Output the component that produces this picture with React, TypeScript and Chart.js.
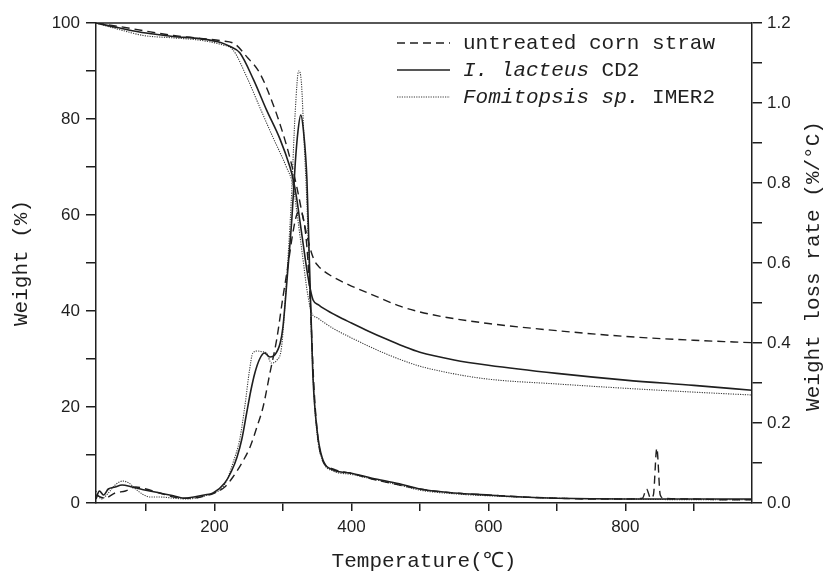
import { useEffect, useRef } from "react";
import { Chart, registerables } from "chart.js";

Chart.register(...registerables);

// ---------- axis ticks ----------
const TEMP_TICKS = [100, 200, 300, 400, 500, 600, 700, 800, 900];
const WEIGHT_TICKS = [0, 10, 20, 30, 40, 50, 60, 70, 80, 90, 100];
const RATE_TICKS = [0, 0.1, 0.2, 0.3, 0.4, 0.5, 0.6, 0.7, 0.8, 0.9, 1.0, 1.1, 1.2];

// ---------- legend ----------
const LEGEND_ITALIC = ["", "I. lacteus", "Fomitopsis sp."];
const LEGEND_PLAIN = ["untreated corn straw", " CD2", " IMER2"];

// ---------- TG curves (Weight %, left axis) ----------
const untreatedTgT = [27, 60, 100, 140, 180, 210, 230, 247, 266, 285, 300, 310, 320, 330, 338, 345, 352, 360, 373, 400, 437, 471, 500, 550, 600, 650, 700, 800, 900, 985];
const untreatedTgW = [100, 99.3, 98.3, 97.4, 96.8, 96.3, 95.6, 93, 89.6, 83.3, 77, 72, 66, 59, 54, 50.8, 49.3, 48.3, 47.1, 45.2, 43, 41, 39.8, 38.4, 37.4, 36.6, 35.9, 34.7, 33.9, 33.4];

const lacteusTgT = [27, 60, 100, 140, 180, 210, 223, 237, 257, 276, 296, 310, 315, 320, 325, 330, 335, 340, 344, 352, 360, 380, 400, 425, 450, 475, 500, 550, 600, 700, 800, 900, 985];
const lacteusTgW = [100, 99.0, 97.9, 97.2, 96.7, 95.9, 95.1, 93.8, 88.2, 81.9, 75.7, 70.1, 67.4, 63.5, 58.5, 53.5, 48.5, 44.5, 42.3, 41.3, 40.5, 38.9, 37.5, 35.8, 34.2, 32.7, 31.4, 29.8, 28.7, 27.0, 25.6, 24.5, 23.5];

const fomitopsisTgT = [27, 62, 96, 140, 179, 210, 227, 247, 266, 285, 305, 315, 320, 325, 330, 335, 342, 350, 360, 373, 400, 425, 450, 475, 500, 550, 600, 700, 800, 900, 985];
const fomitopsisTgW = [100, 98.6, 97.4, 96.9, 96.4, 95.5, 94.4, 88.8, 82.5, 76.3, 70, 66, 61, 55.5, 50, 44.5, 39.6, 38.6, 37.6, 36.4, 34.4, 32.7, 31.1, 29.7, 28.5, 26.9, 25.8, 24.8, 23.9, 23.1, 22.5];

// ---------- DTG curves (Weight loss rate %/°C, right axis) ----------
const untreatedRateT = [27, 40, 55, 70, 85, 100, 120, 140, 160, 180, 200, 215, 227, 240, 252, 262, 271, 281, 291, 300, 307, 314, 320, 325, 330, 335, 340, 345, 350, 357, 373, 398, 430, 470, 500, 550, 600, 650, 700, 750, 800, 825, 831, 837, 841, 846, 851, 856, 900, 950, 985];
const untreatedRate = [0.02, 0.012, 0.025, 0.03, 0.04, 0.035, 0.025, 0.015, 0.012, 0.015, 0.025, 0.04, 0.065, 0.1, 0.14, 0.19, 0.24, 0.325, 0.41, 0.515, 0.59, 0.67, 0.72, 0.73, 0.71, 0.64, 0.5, 0.3, 0.18, 0.11, 0.085, 0.075, 0.06, 0.045, 0.035, 0.025, 0.02, 0.015, 0.012, 0.01, 0.01, 0.012, 0.035, 0.012, 0.02, 0.137, 0.02, 0.012, 0.01, 0.008, 0.008];

const lacteusRateT = [27, 32, 38, 45, 55, 65, 80, 100, 120, 140, 155, 170, 185, 198, 215, 225, 233, 240, 247, 253, 259, 266, 273, 281, 288, 296, 300, 307, 313, 318, 322, 326, 330, 335, 338, 341, 344, 350, 357, 373, 398, 430, 470, 500, 550, 600, 650, 700, 800, 900, 985];
const lacteusRate = [0.01, 0.03, 0.02, 0.035, 0.04, 0.045, 0.04, 0.032, 0.025, 0.018, 0.012, 0.015, 0.02, 0.025, 0.05, 0.08, 0.115, 0.16, 0.225, 0.28, 0.325, 0.36, 0.375, 0.365, 0.37, 0.4, 0.44, 0.58, 0.71, 0.85, 0.93, 0.97, 0.93, 0.81, 0.64, 0.47, 0.31, 0.18, 0.115, 0.083, 0.075, 0.062, 0.048, 0.035, 0.025, 0.02, 0.015, 0.012, 0.01, 0.01, 0.01];

const fomitopsisRateT = [27, 35, 45, 55, 66, 75, 85, 95, 106, 120, 140, 160, 180, 198, 210, 218, 227, 237, 245, 251, 256, 263, 270, 276, 283, 291, 298, 305, 312, 318, 323, 327, 331, 335, 339, 342, 345, 350, 357, 373, 398, 430, 470, 500, 550, 600, 700, 800, 900, 985];
const fomitopsisRate = [0.03, 0.01, 0.025, 0.045, 0.055, 0.05, 0.035, 0.022, 0.015, 0.015, 0.012, 0.01, 0.015, 0.025, 0.035, 0.057, 0.1, 0.16, 0.25, 0.33, 0.375, 0.38, 0.378, 0.375, 0.35, 0.357, 0.39, 0.55, 0.75, 0.98, 1.08, 1.05, 0.9, 0.75, 0.55, 0.4, 0.28, 0.17, 0.11, 0.08, 0.072, 0.06, 0.045, 0.032, 0.023, 0.018, 0.012, 0.01, 0.008, 0.008];

const INK = "#1f1f1f";
const MONO = "'Liberation Mono', 'DejaVu Sans Mono', monospace";
const SANS = "'Liberation Sans', Arial, sans-serif";

const LINE_STYLES = [
  { dash: [8, 5], width: 1.4, color: INK },
  { dash: [] as number[], width: 1.6, color: INK },
  { dash: [1.2, 1.2], width: 1.1, color: "#3a3a3a" },
];

const pts = (xs: number[], ys: number[]) => xs.map((x, i) => ({ x, y: ys[i] }));

const overlayPlugin = {
  id: "overlay",
  afterDraw(chart: any) {
    const { ctx, chartArea: a } = chart;
    ctx.save();
    // top frame line
    ctx.strokeStyle = INK;
    ctx.lineWidth = 1.5;
    ctx.beginPath();
    ctx.moveTo(a.left, a.top);
    ctx.lineTo(a.right, a.top);
    ctx.stroke();

    // legend
    const lx0 = a.left + 301;
    const lx1 = a.left + 354;
    const tx = a.left + 367;
    for (let i = 0; i < 3; i++) {
      const y = a.top + 20 + i * 27;
      const st = LINE_STYLES[i];
      ctx.strokeStyle = st.color;
      ctx.lineWidth = st.width;
      ctx.setLineDash(st.dash);
      ctx.beginPath();
      ctx.moveTo(lx0, y);
      ctx.lineTo(lx1, y);
      ctx.stroke();
      ctx.setLineDash([]);
      ctx.fillStyle = INK;
      ctx.textAlign = "left";
      ctx.textBaseline = "middle";
      let x = tx;
      if (LEGEND_ITALIC[i]) {
        ctx.font = `italic 21px ${MONO}`;
        ctx.fillText(LEGEND_ITALIC[i], x, y);
        x += ctx.measureText(LEGEND_ITALIC[i]).width;
      }
      ctx.font = `21px ${MONO}`;
      ctx.fillText(LEGEND_PLAIN[i], x, y);
    }

    // right axis title, reading bottom to top
    ctx.translate(chart.width - 14, (a.top + a.bottom) / 2 + 3);
    ctx.rotate(-Math.PI / 2);
    ctx.font = `21px ${MONO}`;
    ctx.fillStyle = INK;
    ctx.textAlign = "center";
    ctx.textBaseline = "middle";
    ctx.fillText("Weight loss rate (%/°C)", 0, 0);
    ctx.restore();
  },
};

export default function App() {
  const ref = useRef<HTMLCanvasElement | null>(null);

  useEffect(() => {
    if (!ref.current) return;
    const tg = [
      pts(untreatedTgT, untreatedTgW),
      pts(lacteusTgT, lacteusTgW),
      pts(fomitopsisTgT, fomitopsisTgW),
    ];
    const dtg = [
      pts(untreatedRateT, untreatedRate),
      pts(lacteusRateT, lacteusRate),
      pts(fomitopsisRateT, fomitopsisRate),
    ];
    const names = LEGEND_ITALIC.map((s, i) => s + LEGEND_PLAIN[i]);
    const datasets: any[] = [];
    for (let i = 0; i < 3; i++) {
      const st = LINE_STYLES[i];
      const common = {
        borderColor: st.color,
        borderWidth: st.width,
        borderDash: st.dash,
        pointRadius: 0,
        fill: false,
        cubicInterpolationMode: "monotone",
      };
      datasets.push({ label: names[i] + " TG", data: tg[i], yAxisID: "y", ...common });
      datasets.push({ label: names[i] + " DTG", data: dtg[i], yAxisID: "y1", ...common });
    }

    const tickFont = { family: SANS, size: 17 };
    const axisCommon = {
      border: { display: true, color: INK, width: 1.5 },
    };

    const chart = new Chart(ref.current, {
      type: "line",
      data: { datasets },
      plugins: [overlayPlugin],
      options: {
        animation: false,
        responsive: true,
        maintainAspectRatio: false,
        layout: { padding: { top: 23, left: 0, right: 0, bottom: 0 } },
        plugins: { legend: { display: false }, tooltip: { enabled: false } },
        scales: {
          x: {
            type: "linear",
            min: 27,
            max: 985,
            ...axisCommon,
            grid: { drawOnChartArea: false, drawTicks: true, tickLength: 8, color: INK, lineWidth: 1.5 },
            afterBuildTicks: (s: any) => {
              s.ticks = TEMP_TICKS.map((v) => ({ value: v }));
            },
            afterFit: (s: any) => {
              s.height = 69;
            },
            ticks: {
              autoSkip: false,
              maxRotation: 0,
              padding: 6,
              color: INK,
              font: tickFont,
              callback: (v: any) => (Number(v) % 200 === 0 ? String(v) : ""),
            },
            title: {
              display: true,
              text: "Temperature(℃)",
              color: INK,
              font: { family: MONO, size: 21, lineHeight: 1 },
              padding: { top: 0, bottom: 0 },
            },
          },
          y: {
            type: "linear",
            position: "left",
            min: 0,
            max: 100,
            ...axisCommon,
            grid: { drawOnChartArea: false, drawTicks: true, tickLength: 10, color: INK, lineWidth: 1.5 },
            afterBuildTicks: (s: any) => {
              s.ticks = WEIGHT_TICKS.map((v) => ({ value: v }));
            },
            afterFit: (s: any) => {
              s.width = 96;
            },
            ticks: {
              autoSkip: false,
              padding: 6,
              color: INK,
              font: tickFont,
              callback: (v: any) => (Number(v) % 20 === 0 ? String(v) : ""),
            },
            title: {
              display: true,
              text: "Weight (%)",
              color: INK,
              font: { family: MONO, size: 21, lineHeight: 1.2 },
              padding: { top: 9, bottom: 0 },
            },
          },
          y1: {
            type: "linear",
            position: "right",
            min: 0,
            max: 1.2,
            ...axisCommon,
            grid: { drawOnChartArea: false, drawTicks: true, tickLength: 10, color: INK, lineWidth: 1.5 },
            afterBuildTicks: (s: any) => {
              s.ticks = RATE_TICKS.map((v) => ({ value: v }));
            },
            afterFit: (s: any) => {
              s.width = 75;
            },
            ticks: {
              autoSkip: false,
              padding: 5,
              color: INK,
              font: tickFont,
              callback: (v: any) => (Math.round(Number(v) * 10) % 2 === 0 ? Number(v).toFixed(1) : ""),
            },
            title: { display: false },
          },
        },
      } as any,
    });
    return () => chart.destroy();
  }, []);

  return (
    <div style={{ position: "absolute", left: 0, top: 0, width: 827, height: 572, background: "#fff" }}>
      <canvas ref={ref} />
    </div>
  );
}
